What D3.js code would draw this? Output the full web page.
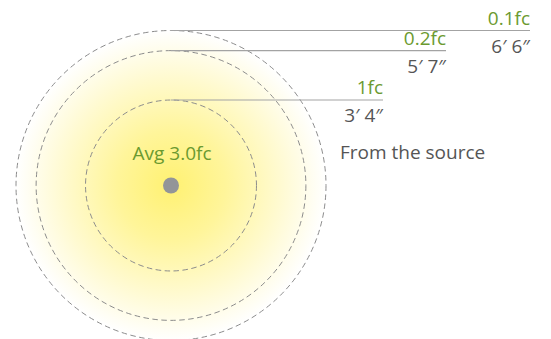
<!DOCTYPE html>
<html>
<head>
<meta charset="utf-8">
<script src="https://cdn.jsdelivr.net/npm/d3@7"></script>
<style>
  html, body { margin: 0; padding: 0; background: #fff; }
  svg { display: block; }
  text { font-family: "Open Sans", "DejaVu Sans", sans-serif; }
</style>
</head>
<body>
<svg id="chart" width="551" height="339"></svg>
<script>
// ---- data ----
const levelLabels = ["1fc", "0.2fc", "0.1fc"];
const distanceLabels = ["3\u2032 4\u2033", "5\u2032 7\u2033", "6\u2032 6\u2033"];
const distanceInches = [40, 67, 78];
const averageLabel = "Avg 3.0fc";
const sourceLabel = "From the source";

// ---- layout ----
const W = 551, H = 339;
const cx = 171, cy = 185.5;
const labelRight = [383, 446, 530];
const green = "#6b9a30";
const grey = "#555555";

const svg = d3.select("#chart");
const r = d3.scaleLinear().domain([0, 78]).range([12.3, 155]);

const defs = svg.append("defs");
const grad = defs.append("radialGradient").attr("id", "glow")
  .attr("cx", "50%").attr("cy", "50%").attr("r", "50%");
grad.append("stop").attr("offset", "0%").attr("stop-color", "#fff172");
grad.append("stop").attr("offset", "35%").attr("stop-color", "#fff59a");
grad.append("stop").attr("offset", "70%").attr("stop-color", "#fffad0");
grad.append("stop").attr("offset", "100%").attr("stop-color", "#ffffff");

svg.append("circle").attr("cx", cx).attr("cy", cy)
  .attr("r", r(d3.max(distanceInches))).attr("fill", "url(#glow)");

const data = levelLabels.map((l, i) => ({ level: l, dist: distanceLabels[i], inches: distanceInches[i], right: labelRight[i] }));

svg.selectAll("circle.ring").data(data).join("circle")
  .attr("class", "ring")
  .attr("cx", cx).attr("cy", cy)
  .attr("r", d => r(d.inches))
  .attr("fill", "none")
  .attr("stroke", "#8c8c8c")
  .attr("stroke-width", 1)
  .attr("stroke-dasharray", "5.5,3.5");

svg.selectAll("line.lead").data(data).join("line")
  .attr("class", "lead")
  .attr("x1", cx).attr("x2", d => d.right)
  .attr("y1", d => cy - r(d.inches)).attr("y2", d => cy - r(d.inches))
  .attr("stroke", "#a3a3a3").attr("stroke-width", 1.2);

svg.selectAll("text.level").data(data).join("text")
  .attr("class", "level")
  .attr("x", d => d.right).attr("y", d => cy - r(d.inches) - 6)
  .attr("text-anchor", "end").attr("font-size", 19).attr("fill", green)
  .text(d => d.level);

svg.selectAll("text.dist").data(data).join("text")
  .attr("class", "dist")
  .attr("x", d => d.right).attr("y", d => cy - r(d.inches) + 22)
  .attr("text-anchor", "end").attr("font-size", 19).attr("fill", grey)
  .text(d => d.dist);

svg.append("text").attr("x", cx + 1).attr("y", 159.5)
  .attr("text-anchor", "middle").attr("font-size", 19).attr("fill", green)
  .text(averageLabel);

svg.append("circle").attr("cx", cx).attr("cy", cy).attr("r", 8).attr("fill", "#939598");

svg.append("text").attr("x", 340).attr("y", 158.5)
  .attr("font-size", 19).attr("fill", grey)
  .text(sourceLabel);
</script>
</body>
</html>
